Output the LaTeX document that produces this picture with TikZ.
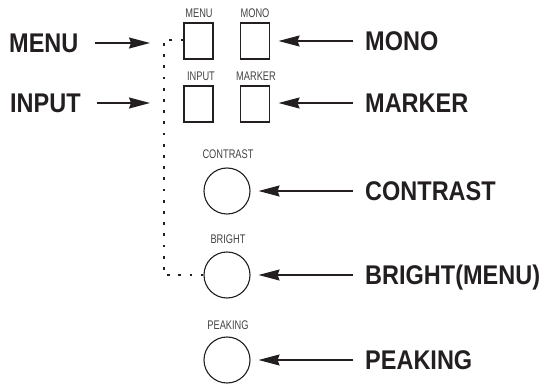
\documentclass[tikz,border=0pt]{standalone}
\usepackage{fontspec}
\setmainfont{Liberation Sans}
\usepackage{xcolor}
\usetikzlibrary{arrows.meta}
\definecolor{ink}{HTML}{231F20}

\begin{document}
\begin{tikzpicture}[x=1pt, y=-1pt,
    key/.style={draw=ink, line width=1.1pt, minimum width=29pt, minimum height=36pt, inner sep=0pt},
    knob/.style={draw=ink, line width=1.1pt, circle, minimum size=46pt, inner sep=0pt},
    tag/.style={text=ink!85, font=\fontsize{12.5}{13}\selectfont, xscale=0.74, inner sep=0pt, text height=9pt, text depth=0pt},
    callout/.style={text=ink, font=\fontsize{23.5}{24}\selectfont\bfseries, yscale=1.15, inner sep=0pt, text height=16.8pt, text depth=0pt},
    pointer/.style={draw=ink, line width=1.4pt, -{Stealth[length=21pt, width=11pt, inset=2pt]}},
    dotline/.style={draw=ink, line width=2.8pt, dash pattern=on 2.8pt off 8.4pt}]

    \useasboundingbox (0,0) rectangle (539,385);

    % Square keys
    \node[key] (bMENU) at (198.5,41) {};
    \node[key] (bMONO) at (255,41) {};
    \node[key] (bINPUT) at (198.5,104) {};
    \node[key] (bMARKER) at (255,104) {};

    % Round knobs
    \node[knob] (cCONTRAST) at (227,191) {};
    \node[knob] (cBRIGHT) at (227,275) {};
    \node[knob] (cPEAKING) at (227,360) {};

    % Printed names on the panel
    \node[tag] (tMENU) at (199,13) {MENU};
    \node[tag] (tMONO) at (255,13) {MONO};
    \node[tag] (tINPUT) at (201,76) {INPUT};
    \node[tag] (tMARKER) at (256,76) {MARKER};
    \node[tag] (tCONTRAST) at (228,154) {CONTRAST};
    \node[tag] (tBRIGHT) at (228,239) {BRIGHT};
    \node[tag] (tPEAKING) at (228,325) {PEAKING};

    % Dotted link between MENU and BRIGHT
    \coordinate (dTop) at (164,40);
    \coordinate (dBot) at (164,275);
    \draw[dotline] (bMENU.west |- dTop) -- (dTop) -- (dBot) -- (cBRIGHT.west);

    % Left callouts
    \node[callout, anchor=west] (lMENU) at (9,43) {MENU};
    \node[callout, anchor=west] (lINPUT) at (10,103) {INPUT};
    \coordinate (pMENU) at (150,43);
    \coordinate (pINPUT) at (150,103);
    \draw[pointer] ([xshift=16pt]lMENU.east) -- (pMENU);
    \draw[pointer] ([xshift=16pt]lINPUT.east) -- (pINPUT);

    % Right callouts
    \node[callout, anchor=west] (lMONO) at (365,41) {MONO};
    \node[callout, anchor=west] (lMARKER) at (365,103) {MARKER};
    \node[callout, anchor=west] (lCONTRAST) at (365,191) {CONTRAST};
    \node[callout, anchor=west] (lBRIGHT) at (365,275) {BRIGHT(MENU)};
    \node[callout, anchor=west] (lPEAKING) at (365,360) {PEAKING};
    \draw[pointer, shorten >=8.5pt] ([xshift=-12pt]lMONO.west) -- (bMONO.east);
    \draw[pointer, shorten >=8.5pt] ([xshift=-12pt]lMARKER.west) -- (bMARKER.east |- lMARKER.west);
    \draw[pointer, shorten >=8pt] ([xshift=-12pt]lCONTRAST.west) -- (cCONTRAST.east);
    \draw[pointer, shorten >=8pt] ([xshift=-12pt]lBRIGHT.west) -- (cBRIGHT.east);
    \draw[pointer, shorten >=8pt] ([xshift=-12pt]lPEAKING.west) -- (cPEAKING.east);
\end{tikzpicture}
\end{document}
